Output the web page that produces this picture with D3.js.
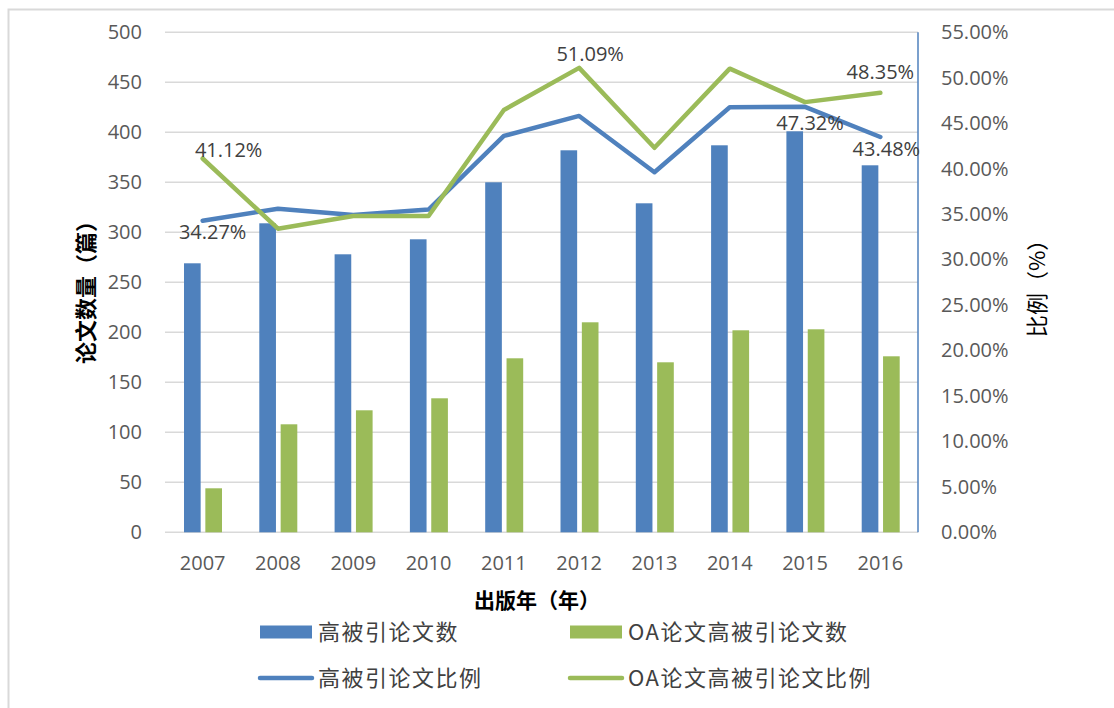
<!DOCTYPE html>
<html>
<head>
<meta charset="utf-8">
<script src="https://cdn.jsdelivr.net/npm/d3@7/dist/d3.min.js"></script>
<style>
  html, body { margin: 0; padding: 0; background: #ffffff; }
  svg { display: block; }
</style>
</head>
<body>
<svg id="chart" width="1114" height="708"></svg>
<script>
// ---- data ----
const years = ["2007","2008","2009","2010","2011","2012","2013","2014","2015","2016"];
const highCited = [269, 309, 278, 293, 350, 382, 329, 387, 401, 367];
const oaHighCited = [44, 108, 122, 134, 174, 210, 170, 202, 203, 176];
const highCitedRatio = [34.27, 35.6, 34.9, 35.5, 43.6, 45.8, 39.6, 46.75, 46.8, 43.48];
const oaRatio = [41.12, 33.4, 34.8, 34.8, 46.45, 51.09, 42.3, 51.0, 47.32, 48.35];
const leftTicks = [0, 50, 100, 150, 200, 250, 300, 350, 400, 450, 500];
const rightTicks = [0, 5, 10, 15, 20, 25, 30, 35, 40, 45, 50, 55];
const seriesNames = ["高被引论文数", "OA论文高被引论文数", "高被引论文比例", "OA论文高被引论文比例"];
const leftTitle = "论文数量（篇）";
const rightTitle = "比例（%）";
const xTitle = "出版年（年）";
// which points carry a data label
const highCitedLabelIdx = [0, 9];
const oaLabelIdx = [0, 5, 8, 9];

// ---- style ----
const BLUE = "#4f81bd", GREEN = "#9bbb59", GRID = "#d9d9d9", TXT = "#595959";
const NUMFONT = "'Open Sans', 'Liberation Sans', sans-serif";
const CJKFONT = "'Noto Sans CJK SC', 'Noto Sans', sans-serif";

const svg = d3.select("#chart");
svg.append("rect").attr("width", 1114).attr("height", 708).attr("fill", "#fff");
svg.append("rect").attr("x", 8.5).attr("y", 9.5).attr("width", 1200).attr("height", 800)
  .attr("fill", "none").attr("stroke", GRID).attr("stroke-width", 2);

const plot = { left: 165, right: 918, top: 32.3, bottom: 532.3 };

const x0 = d3.scaleBand().domain(years).range([plot.left, plot.right]).padding(0);
const x1 = d3.scaleBand().domain(["a", "b"]).range([19, 57]).paddingInner(0.22).paddingOuter(0);
const yL = d3.scaleLinear().domain([0, 500]).range([plot.bottom, plot.top]);
const yR = d3.scaleLinear().domain([0, 55]).range([plot.bottom, plot.top]);

// gridlines
svg.append("g").selectAll("line").data(leftTicks).join("line")
  .attr("x1", plot.left).attr("x2", plot.right)
  .attr("y1", d => yL(d)).attr("y2", d => yL(d))
  .attr("stroke", GRID).attr("stroke-width", 1.5);

// left axis
const gL = svg.append("g").attr("transform", `translate(${plot.left},0)`)
  .call(d3.axisLeft(yL).tickValues(leftTicks).tickSize(0).tickPadding(23));
gL.select(".domain").remove();
gL.selectAll("text").attr("font-family", NUMFONT).attr("font-size", 20).attr("fill", TXT);

// right axis
const gR = svg.append("g").attr("transform", `translate(${plot.right},0)`)
  .call(d3.axisRight(yR).tickValues(rightTicks).tickSize(0).tickPadding(23)
    .tickFormat(d => d3.format(".2%")(d / 100)));
gR.select(".domain").remove();
gR.selectAll("text").attr("font-family", NUMFONT).attr("font-size", 20).attr("fill", TXT);
svg.append("line").attr("x1", plot.right).attr("x2", plot.right)
  .attr("y1", plot.top).attr("y2", plot.bottom).attr("stroke", BLUE).attr("stroke-width", 1.5);

// bottom axis
const gB = svg.append("g").attr("transform", `translate(0,${plot.bottom})`)
  .call(d3.axisBottom(x0).tickSize(0));
gB.select(".domain").remove();
gB.selectAll("text").attr("font-family", NUMFONT).attr("font-size", 20).attr("fill", TXT)
  .attr("y", 31).attr("dy", "0.35em");

// bars
svg.append("g").selectAll("rect").data(years).join("rect")
  .attr("x", (d) => x0(d) + x1("a")).attr("width", x1.bandwidth())
  .attr("y", (d, i) => yL(highCited[i])).attr("height", (d, i) => yL(0) - yL(highCited[i]))
  .attr("fill", BLUE);
svg.append("g").selectAll("rect").data(years).join("rect")
  .attr("x", (d) => x0(d) + x1("b")).attr("width", x1.bandwidth())
  .attr("y", (d, i) => yL(oaHighCited[i])).attr("height", (d, i) => yL(0) - yL(oaHighCited[i]))
  .attr("fill", GREEN);

// lines
const cx = d => x0(d) + x0.bandwidth() / 2;
const lineGen = arr => d3.line().x(d => cx(d)).y((d, i) => yR(arr[i]))(years);
svg.append("path").attr("d", lineGen(highCitedRatio)).attr("fill", "none")
  .attr("stroke", BLUE).attr("stroke-width", 4.5).attr("stroke-linejoin", "round").attr("stroke-linecap", "round");
svg.append("path").attr("d", lineGen(oaRatio)).attr("fill", "none")
  .attr("stroke", GREEN).attr("stroke-width", 4.5).attr("stroke-linejoin", "round").attr("stroke-linecap", "round");

// data labels (offsets relative to point)
const blueOff = { 0: [10, 11], 9: [6, 12] };
const greenOff = { 0: [26, -8.5], 5: [11, -13.6], 8: [5, 21], 9: [0, -21] };
function addLabels(idx, arr, off) {
  svg.append("g").selectAll("text").data(idx).join("text")
    .attr("x", i => cx(years[i]) + off[i][0])
    .attr("y", i => yR(arr[i]) + off[i][1])
    .attr("text-anchor", "middle").attr("dy", "0.35em")
    .attr("font-family", NUMFONT).attr("font-size", 20).attr("fill", "#404040")
    .text(i => d3.format(".2%")(arr[i] / 100));
}
addLabels(highCitedLabelIdx, highCitedRatio, blueOff);
addLabels(oaLabelIdx, oaRatio, greenOff);

// axis titles
svg.append("text").attr("transform", "translate(86,287) rotate(-90)")
  .attr("text-anchor", "middle").attr("dy", "0.35em")
  .attr("font-family", CJKFONT).attr("font-weight", "bold").attr("font-size", 22).attr("fill", "#000")
  .text(leftTitle);
svg.append("text").attr("transform", "translate(1037,283) rotate(-90)")
  .attr("text-anchor", "middle").attr("dy", "0.35em")
  .attr("font-family", CJKFONT).attr("font-size", 22).attr("fill", "#000")
  .text(rightTitle);
svg.append("text").attr("x", 537).attr("y", 601)
  .attr("text-anchor", "middle").attr("dy", "0.35em")
  .attr("font-family", CJKFONT).attr("font-weight", "bold").attr("font-size", 21).attr("fill", "#000")
  .text(xTitle);

// legend
const legendItems = [
  { name: seriesNames[0], color: BLUE, type: "rect", x: 260, y: 632 },
  { name: seriesNames[1], color: GREEN, type: "rect", x: 570, y: 632 },
  { name: seriesNames[2], color: BLUE, type: "line", x: 260, y: 678 },
  { name: seriesNames[3], color: GREEN, type: "line", x: 570, y: 678 }
];
const lg = svg.append("g").selectAll("g").data(legendItems).join("g")
  .attr("transform", d => `translate(${d.x},${d.y})`);
lg.filter(d => d.type === "rect").append("rect")
  .attr("x", 0).attr("y", -6.5).attr("width", 52).attr("height", 13).attr("fill", d => d.color);
lg.filter(d => d.type === "line").append("line")
  .attr("x1", 0).attr("x2", 52).attr("y1", 0).attr("y2", 0)
  .attr("stroke", d => d.color).attr("stroke-width", 4.5).attr("stroke-linecap", "round");
lg.append("text").attr("x", 58).attr("dy", "0.35em")
  .attr("font-family", CJKFONT).attr("font-size", 22).attr("letter-spacing", 1.5).attr("fill", "#404040")
  .text(d => d.name);
</script>
</body>
</html>
